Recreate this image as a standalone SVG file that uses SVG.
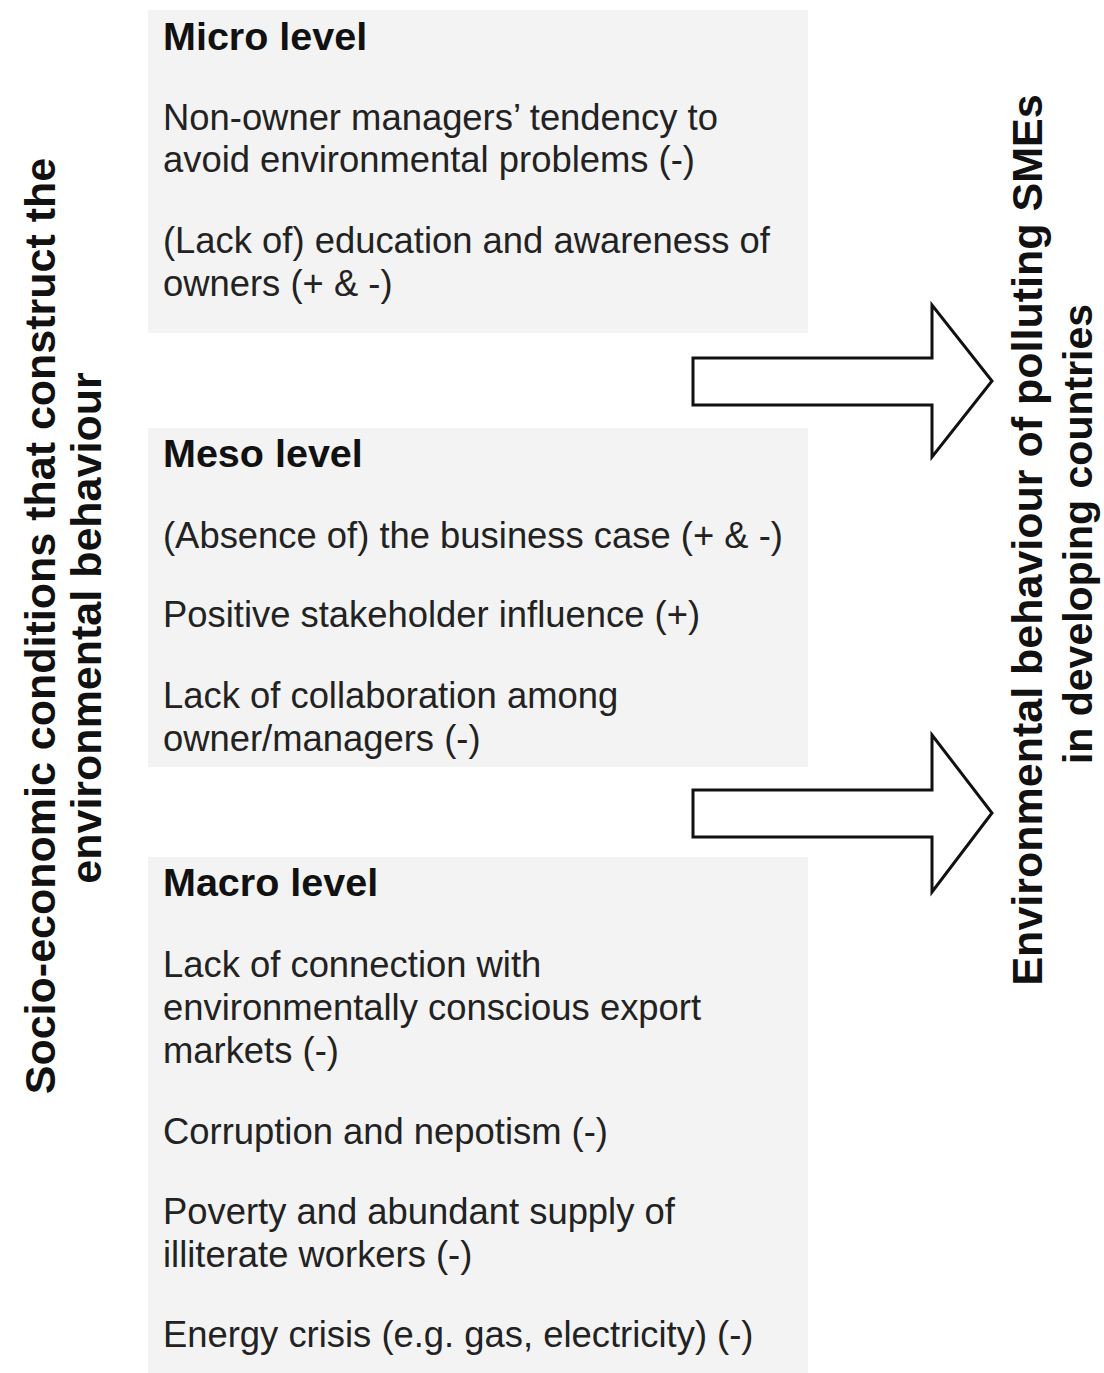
<svg xmlns="http://www.w3.org/2000/svg" width="1104" height="1373" viewBox="0 0 1104 1373">
<style>
.box{fill:#f3f3f3;stroke:none}
.h{font-family:"Liberation Sans",Arial,sans-serif;font-size:39.5px;font-weight:bold;fill:#111}
.t{font-family:"Liberation Sans",Arial,sans-serif;font-size:36.4px;fill:#222}
.side{font-family:"Liberation Sans",Arial,sans-serif;font-size:43px;font-weight:bold;fill:#111;text-anchor:middle}
.arrow{fill:#fff;stroke:#111;stroke-width:3;stroke-linejoin:miter}
</style>
<rect width="1104" height="1373" fill="#fff"/>
<g id="left-label">
<text class="side" transform="translate(55,626) rotate(-90)">Socio-economic conditions that construct the</text>
<text class="side" transform="translate(101,628) rotate(-90)">environmental behaviour</text>
</g>
<g id="micro">
<rect class="box" x="148" y="10" width="660" height="323"/>
<text class="h" x="163" y="50">Micro level</text>
<text class="t" x="163" y="130">Non-owner managers’ tendency to</text>
<text class="t" x="163" y="172">avoid environmental problems (-)</text>
<text class="t" x="163" y="253">(Lack of) education and awareness of</text>
<text class="t" x="163" y="296">owners (+ &amp; -)</text>
</g>
<g id="meso">
<rect class="box" x="148" y="428" width="660" height="339"/>
<text class="h" x="163" y="467">Meso level</text>
<text class="t" x="163" y="548">(Absence of) the business case (+ &amp; -)</text>
<text class="t" x="163" y="627">Positive stakeholder influence (+)</text>
<text class="t" x="163" y="708">Lack of collaboration among</text>
<text class="t" x="163" y="751">owner/managers (-)</text>
</g>
<g id="macro">
<rect class="box" x="148" y="857" width="660" height="516"/>
<text class="h" x="163" y="896">Macro level</text>
<text class="t" x="163" y="977">Lack of connection with</text>
<text class="t" x="163" y="1020">environmentally conscious export</text>
<text class="t" x="163" y="1063">markets (-)</text>
<text class="t" x="163" y="1144">Corruption and nepotism (-)</text>
<text class="t" x="163" y="1224">Poverty and abundant supply of</text>
<text class="t" x="163" y="1267">illiterate workers (-)</text>
<text class="t" x="163" y="1347">Energy crisis (e.g. gas, electricity) (-)</text>
</g>
<g id="right-label">
<text class="side" transform="translate(1042,540) rotate(-90)">Environmental behaviour of polluting SMEs</text>
<text class="side" style="font-size:41px" transform="translate(1092,534) rotate(-90)">in developing countries</text>
</g>
<g id="connectors">
<path class="arrow" d="M693,358 L932,358 L932,305 L992,381 L932,457 L932,405 L693,405 Z"/>
<path class="arrow" d="M693,790 L932,790 L932,735 L992,813 L932,892 L932,837 L693,837 Z"/>
</g>
</svg>
